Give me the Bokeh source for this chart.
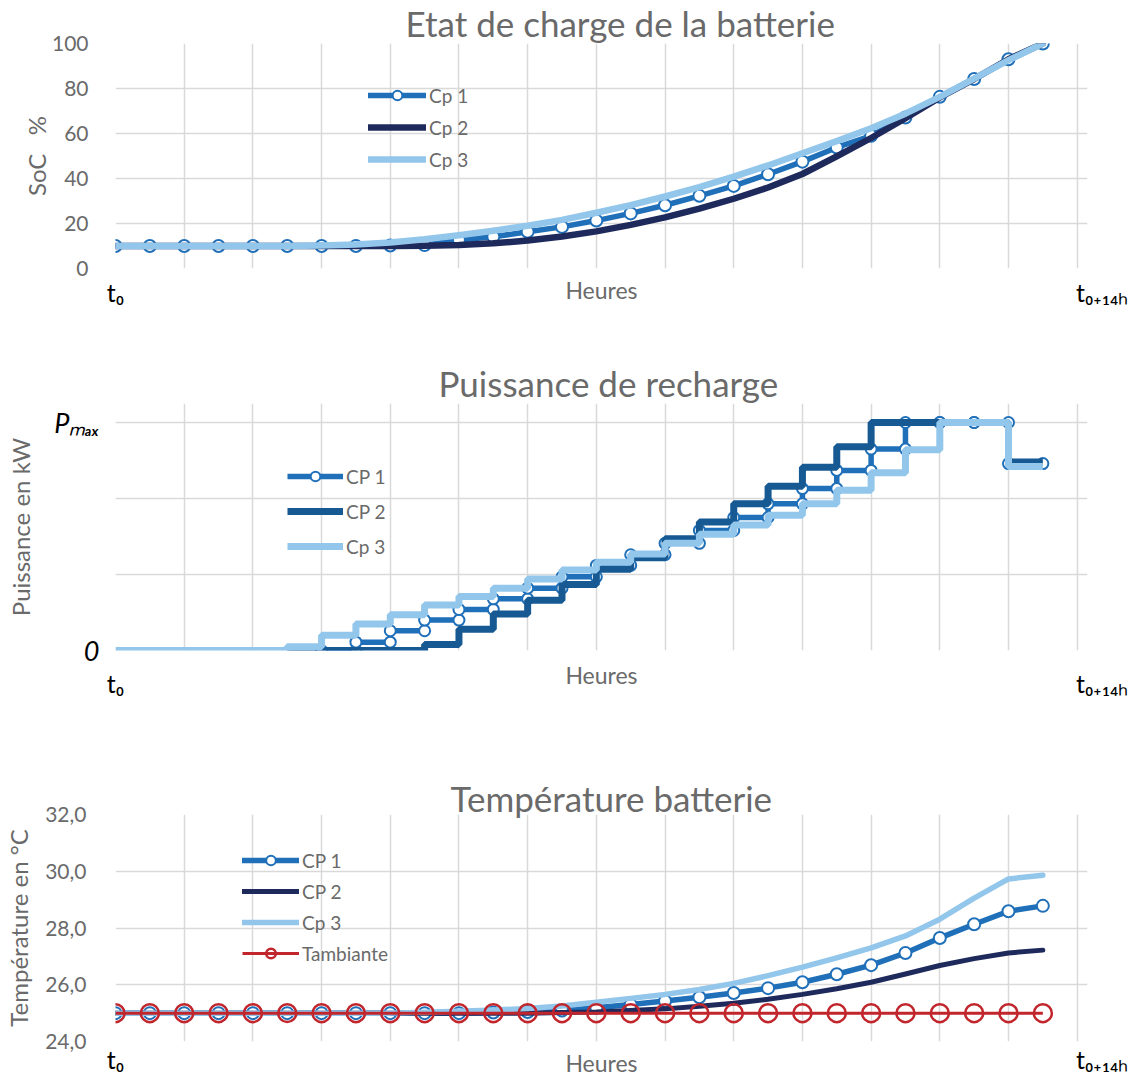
from bokeh.plotting import figure
from bokeh.layouts import column
from bokeh.models import Range1d, FixedTicker, Legend, LegendItem
from bokeh.embed import file_html
from bokeh.resources import INLINE

# ---------------- data ----------------
hours = [0.0, 0.5, 1.0, 1.5, 2.0, 2.5, 3.0, 3.5, 4.0, 4.5, 5.0, 5.5, 6.0, 6.5,
         7.0, 7.5, 8.0, 8.5, 9.0, 9.5, 10.0, 10.5, 11.0, 11.5, 12.0, 12.5, 13.0, 13.5]
grid_hours = [0, 1, 2, 3, 4, 5, 6, 7, 8, 9, 10, 11, 12, 13, 14]
x_tick_pos = [0, 14]
x_tick_text = ["t\u2080", "\u2002\u2002\u2002\u2002t\u2080\u208a\u2081\u2084\u2095"]

soc_cp1 = [10, 10, 10, 10, 10, 10, 10, 10, 10.2, 10.4, 12.7, 14.1, 16.3, 18.5,
           21.3, 24.5, 28.1, 32.3, 36.7, 41.9, 47.5, 53.8, 59.0, 67.1, 76.3, 84.2, 93.0, 100]
soc_cp2 = [10, 10, 10, 10, 10, 10, 10, 10, 10, 10.1, 10.4, 11.2, 12.4, 14.2,
           16.5, 19.4, 22.7, 26.6, 31.0, 36.0, 42.0, 49.8, 58.0, 66.8, 76.0, 84.2, 93.0, 100]
soc_cp3 = [10, 10, 10, 10, 10, 10, 10.2, 10.7, 11.6, 13.0, 14.8, 16.8, 19.0, 21.6,
           24.8, 28.2, 32.0, 36.2, 40.8, 45.8, 51.2, 56.6, 62.3, 68.8, 76.3, 84.4, 92.6, 100]
soc_ticks = [0, 20, 40, 60, 80, 100]

# charging power (Pmax = 3 units), level held during each half-hour step
p_cp1_start = [3.0, 3.5, 4.0, 4.5, 5.0, 5.5, 6.0, 6.5, 7.0, 7.5, 8.0, 8.5, 9.0, 9.5,
               10.0, 10.5, 11.0, 11.5, 12.0, 12.5, 13.0]
p_cp1 = [0, 0.11, 0.26, 0.40, 0.54, 0.68, 0.82, 0.97, 1.12, 1.26, 1.41, 1.58, 1.75, 1.93,
         2.13, 2.37, 2.65, 3.0, 3.0, 3.0, 2.46]
p_cp2_start = [2.5, 3.0, 3.5, 4.0, 4.5, 5.0, 5.5, 6.0, 6.5, 7.0, 7.5, 8.0, 8.5, 9.0, 9.5,
               10.0, 10.5, 11.0, 11.5, 12.0, 12.5, 13.0]
p_cp2 = [0, 0, 0, 0, 0.08, 0.28, 0.48, 0.66, 0.87, 1.07, 1.22, 1.47, 1.69, 1.93, 2.16,
         2.41, 2.68, 3.0, 3.0, 3.0, 3.0, 2.48]
p_cp3_start = [0.0, 0.5, 1.0, 1.5, 2.0, 2.5, 3.0, 3.5, 4.0, 4.5, 5.0, 5.5, 6.0, 6.5, 7.0,
               7.5, 8.0, 8.5, 9.0, 9.5, 10.0, 10.5, 11.0, 11.5, 12.0, 12.5, 13.0]
p_cp3 = [0, 0, 0, 0, 0, 0.05, 0.20, 0.35, 0.47, 0.60, 0.71, 0.82, 0.94, 1.06, 1.16,
         1.27, 1.41, 1.53, 1.65, 1.78, 1.93, 2.11, 2.34, 2.64, 3.0, 3.0, 2.42]
p_end = 13.5
p_ticks = [0, 1, 2, 3]
p_tick_text = {0: "0", 1: "", 2: "", 3: "P\u2098\u2090\u2093"}

temp_cp1 = [25.0, 25.0, 25.0, 25.0, 25.0, 25.0, 25.0, 25.0, 25.0, 25.0, 25.0, 25.02, 25.04, 25.09,
            25.19, 25.30, 25.43, 25.56, 25.71, 25.88, 26.09, 26.37, 26.69, 27.12, 27.65, 28.13, 28.59, 28.78]
temp_cp2 = [25.0, 25.0, 25.0, 25.0, 25.0, 25.0, 25.0, 25.0, 25.0, 25.0, 25.0, 25.0, 25.0, 25.02,
            25.04, 25.09, 25.15, 25.24, 25.35, 25.49, 25.66, 25.86, 26.09, 26.38, 26.68, 26.92, 27.12, 27.22]
temp_cp3 = [25.0, 25.0, 25.0, 25.0, 25.0, 25.0, 25.0, 25.0, 25.0, 25.03, 25.07, 25.11, 25.16, 25.25,
            25.38, 25.52, 25.66, 25.83, 26.05, 26.32, 26.62, 26.95, 27.30, 27.72, 28.31, 29.05, 29.73, 29.86]
temp_amb = [25.0] * 28
temp_ticks = [24, 26, 28, 30, 32]
temp_tick_labels = ["24,0", "26,0", "28,0", "30,0", "32,0"]

# ---------------- style ----------------
FONT = "Lato"
GRAY = "#6a6a6a"
C1 = "#1f6fb9"
C2 = "#1f2a5c"
C2P = "#175a93"
C3 = "#92c6eb"
RED = "#c1262d"
GRID = "#d9d9d9"
X_END = 14.15


def steps(starts, levels, end):
    xs, ys = [], []
    for i, (t, v) in enumerate(zip(starts, levels)):
        t_next = starts[i + 1] if i + 1 < len(starts) else end
        xs += [t, t_next]
        ys += [v, v]
    return xs, ys


def base_fig(title, left, right, top, frame_h, bottom, y0, y1, yticks,
             title_standoff, title_offset, x_label_standoff, heures_standoff):
    p = figure(frame_width=972, frame_height=frame_h,
               min_border_left=left, min_border_right=right,
               min_border_top=top, min_border_bottom=bottom,
               x_range=Range1d(0, X_END), y_range=Range1d(y0, y1),
               output_backend="svg", toolbar_location=None, title=title)
    p.title.text_font = FONT
    p.title.text_font_size = "35px"
    p.title.text_font_style = "normal"
    p.title.text_color = GRAY
    p.title.align = "left"
    p.title.standoff = title_standoff
    p.title.offset = title_offset
    p.outline_line_color = None
    p.background_fill_color = "white"
    p.border_fill_color = "white"
    p.xgrid.ticker = FixedTicker(ticks=grid_hours)
    p.ygrid.ticker = FixedTicker(ticks=yticks)
    for g in (p.xgrid, p.ygrid):
        g.grid_line_color = GRID
        g.grid_line_width = 1.5
    xa = p.xaxis[0]
    xa.ticker = FixedTicker(ticks=x_tick_pos)
    xa.major_label_overrides = dict(zip(x_tick_pos, x_tick_text))
    xa.axis_line_color = None
    xa.major_tick_line_color = None
    xa.minor_tick_line_color = None
    xa.major_label_text_font = FONT
    xa.major_label_text_font_size = "25px"
    xa.major_label_text_color = "black"
    xa.major_label_standoff = x_label_standoff
    xa.axis_label = "Heures"
    xa.axis_label_text_font = FONT
    xa.axis_label_text_font_size = "23px"
    xa.axis_label_text_font_style = "normal"
    xa.axis_label_text_color = GRAY
    xa.axis_label_standoff = heures_standoff
    ya = p.yaxis[0]
    ya.ticker = FixedTicker(ticks=yticks)
    ya.axis_line_color = None
    ya.major_tick_line_color = None
    ya.minor_tick_line_color = None
    ya.major_label_text_font = FONT
    ya.major_label_text_font_size = "21px"
    ya.major_label_text_color = GRAY
    ya.axis_label_text_font = FONT
    ya.axis_label_text_font_size = "24px"
    ya.axis_label_text_font_style = "normal"
    ya.axis_label_text_color = GRAY
    return p


def make_legend(items, loc, glyph_w, spacing):
    return Legend(items=items, location=loc, orientation="vertical",
                  border_line_color=None, background_fill_alpha=0,
                  padding=0, margin=0, spacing=spacing,
                  glyph_width=glyph_w, glyph_height=24, label_height=24,
                  label_standoff=3, label_text_font=FONT,
                  label_text_font_size="19px", label_text_color=GRAY)


# ---------------- chart 1 : SoC ----------------
p1 = base_fig("Etat de charge de la batterie", 115, 58, 43, 225, 82, 0, 100, soc_ticks,
              -1, 290, 2, -34)
p1.yaxis.axis_label = "SoC\u00a0\u00a0\u00a0%"
p1.yaxis.major_label_standoff = 21
p1.yaxis.axis_label_standoff = -2
r1l = p1.line(hours, soc_cp1, line_color=C1, line_width=5.5, line_cap="round", line_join="round")
r1s = p1.scatter(hours, soc_cp1, marker="circle", size=12, fill_color="white",
                 line_color=C1, line_width=2)
r2l = p1.line(hours, soc_cp2, line_color=C2, line_width=6.5, line_cap="round", line_join="round")
r3l = p1.line(hours, soc_cp3, line_color=C3, line_width=6.5, line_cap="round", line_join="round")
p1.add_layout(make_legend([LegendItem(label="Cp 1", renderers=[r1l, r1s]),
                           LegendItem(label="Cp 2", renderers=[r2l]),
                           LegendItem(label="Cp 3", renderers=[r3l])], (253, 97), 58, 8))

# ---------------- chart 2 : power ----------------
p2 = base_fig("Puissance de recharge", 115, 58, 53, 247, 110, 0, 3.25, p_ticks,
              0, 323, 11, -40)
p2.yaxis.axis_label = "Puissance en kW"
p2.yaxis.major_label_overrides = p_tick_text
p2.yaxis.major_label_text_font_style = "italic"
p2.yaxis.major_label_text_color = "black"
p2.yaxis.major_label_text_font_size = "27px"
p2.yaxis.major_label_standoff = 10
p2.yaxis.axis_label_standoff = 16
x1, y1 = steps(p_cp1_start, p_cp1, p_end)
x2, y2 = steps(p_cp2_start, p_cp2, p_end)
x3, y3 = steps(p_cp3_start, p_cp3, p_end)
q1l = p2.line(x1, y1, line_color=C1, line_width=5.5)
q1s = p2.scatter(x1, y1, marker="circle", size=11, fill_color="white", line_color=C1, line_width=2)
q2l = p2.line(x2, y2, line_color=C2P, line_width=7)
q3l = p2.line(x3, y3, line_color=C3, line_width=7)
p2.add_layout(make_legend([LegendItem(label="CP 1", renderers=[q1l, q1s]),
                           LegendItem(label="CP 2", renderers=[q2l]),
                           LegendItem(label="Cp 3", renderers=[q3l])], (172, 92), 56, 11))

# ---------------- chart 3 : temperature ----------------
p3 = base_fig("Température batterie", 113, 60, 54, 227, 38, 24, 32, temp_ticks,
              -9, 335, -4, -28)
p3.yaxis.axis_label = "Température en °C"
p3.yaxis.major_label_overrides = dict(zip(temp_ticks, temp_tick_labels))
p3.yaxis.major_label_standoff = 23
p3.yaxis.axis_label_standoff = 9
t1l = p3.line(hours, temp_cp1, line_color=C1, line_width=5.5, line_cap="round", line_join="round")
t1s = p3.scatter(hours, temp_cp1, marker="circle", size=12, fill_color="white", line_color=C1, line_width=2)
t2l = p3.line(hours, temp_cp2, line_color=C2, line_width=5, line_cap="round", line_join="round")
t3l = p3.line(hours, temp_cp3, line_color=C3, line_width=5.5, line_cap="round", line_join="round")
t4l = p3.line(hours, temp_amb, line_color=RED, line_width=3)
t4s = p3.scatter(hours, temp_amb, marker="circle", size=18, fill_color=None, line_color=RED, line_width=2.5)
p3.add_layout(make_legend([LegendItem(label="CP 1", renderers=[t1l, t1s]),
                           LegendItem(label="CP 2", renderers=[t2l]),
                           LegendItem(label="Cp 3", renderers=[t3l]),
                           LegendItem(label="Tambiante", renderers=[t4l, t4s])], (127, 76), 57, 7))

layout = column(p1, p2, p3, spacing=0)
open("out.html", "w").write(file_html(layout, INLINE))
